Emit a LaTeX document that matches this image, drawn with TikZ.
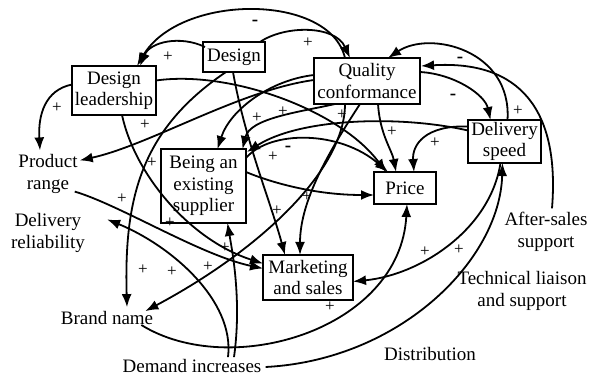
\documentclass[tikz,border=0pt]{standalone}
\usepackage{fontspec}
\setmainfont{Liberation Serif}
\usetikzlibrary{arrows.meta,calc}
\newcommand\nodefont{\fontsize{19}{21.5}\selectfont}
\newcommand\plusfont{\fontsize{17}{17}\selectfont}
\newcommand\minusfont{\fontsize{19}{19}\selectfont\bfseries}
\tikzset{
  box/.style={draw, line width=2pt, inner sep=0pt, align=center, font=\nodefont},
  lbl/.style={inner sep=0pt, align=center, font=\nodefont},
  conn/.style={line width=1.8pt, -{Latex[length=13pt,width=10pt]}},
  pl/.style={inner sep=0pt, font=\plusfont},
  mi/.style={inner sep=0pt, font=\minusfont}
}
\begin{document}
\begin{tikzpicture}[x=1pt,y=-1pt]
\useasboundingbox (0,0) rectangle (597,379);
% boxes
\node[box, minimum width=62pt, minimum height=30pt] (design) at (234,57) {Design};
\node[box, minimum width=84pt, minimum height=49pt] (dl) at (114,90.5) {Design\\leadership};
\node[box, minimum width=106pt, minimum height=46pt] (qc) at (367,81) {Quality\\conformance};
\node[box, minimum width=73pt, minimum height=43pt] (ds) at (504.5,141.5) {Delivery\\speed};
\node[box, minimum width=85pt, minimum height=74pt] (bes) at (203.5,186) {Being an\\existing\\supplier};
\node[box, minimum width=62pt, minimum height=32pt] (price) at (405,188) {Price};
\node[box, minimum width=90pt, minimum height=45pt] (ms) at (308,277.5) {Marketing\\and sales};
% free labels
\node[lbl] (pr) at (48,174) {Product\\range};
\node[lbl] (dr) at (48,233) {Delivery\\reliability};
\node[lbl] (bn) at (107,318) {Brand name};
\node[lbl] (di) at (192,366) {Demand increases};
\node[lbl] (dist) at (430,354) {Distribution};
\node[lbl] (as) at (546,232) {After-sales\\support};
\node[lbl] (tl) at (522,291) {Technical liaison\\and support};
% connectors
\draw[conn] ($(qc.center)+(-22,-23)$) .. controls (330,-7) and (180,-7) .. ($(dl.center)+(23,-24.5)$);
\draw[conn] ($(design.center)+(-29,-10)$) .. controls (180,35) and (150,42) .. ($(dl.center)+(26,-24.5)$);
\draw[conn] ($(design.center)+(26,-15)$) .. controls (285,25) and (335,25) .. ($(qc.center)+(-17,-23)$);
\draw[conn] ($(dl.center)+(-42,-6)$) .. controls (45,90) and (38,115) .. ($(pr.north)+(-8,-4)$);
\draw[conn] ($(qc.center)+(-53,-1)$) .. controls (240,90) and (150,145) .. ($(pr.north east)+(2,6)$);
\draw[conn] ($(design.center)+(-8,15)$) .. controls (140,130) and (124,200) .. ($(bn.north)+(20,-4)$);
\draw[conn] ($(dl.center)+(8,24.5)$) .. controls (135,175) and (190,240) .. ($(ms.center)+(-45,-14)$);
\draw[conn] ($(dl.center)+(42,-10)$) .. controls (230,70) and (340,110) .. ($(price.center)+(-19,-16)$);
\draw[conn] ($(design.center)+(-1,15)$) .. controls (245,140) and (270,200) .. ($(ms.center)+(-23,-22.5)$);
\draw[conn] ($(qc.center)+(-53,-6)$) .. controls (270,80) and (230,110) .. ($(bes.center)+(14,-37)$);
\draw[conn] ($(qc.center)+(-32,23)$) .. controls (300,112) and (250,118) .. ($(bes.center)+(39,-37)$);
\draw[conn] ($(bes.center)+(42.5,-28)$) .. controls (270,130) and (340,130) .. ($(price.center)+(-17,-16)$);
\draw[conn] ($(bes.center)+(42.5,-14)$) .. controls (265,180) and (310,195) .. ($(price.center)+(-31,7)$);
\draw[conn] ($(qc.center)+(11,23)$) .. controls (380,135) and (392,150) .. ($(price.center)+(-9,-16)$);
\draw[conn] ($(ds.center)+(-36.5,-15)$) .. controls (425,125) and (412,145) .. ($(price.center)+(9,-16)$);
\draw[conn] ($(qc.center)+(53,-9)$) .. controls (455,74) and (485,95) .. ($(ds.center)+(-14,-21.5)$);
\draw[conn] ($(ds.center)+(3,-21.5)$) .. controls (512,50) and (430,30) .. ($(qc.center)+(21,-23)$);
\draw[conn] ($(as.north)+(6,-4)$) .. controls (560,110) and (520,60) .. ($(qc.center)+(54,-15)$);
\draw[conn] ($(qc.center)+(-22,23)$) .. controls (345,170) and (260,250) .. ($(bn.north east)+(-8,0)$);
\draw[conn] ($(qc.center)+(-7,23)$) .. controls (330,150) and (300,200) .. ($(ms.center)+(-8,-22.5)$);
\draw[conn] ($(pr.south east)+(-3,-2)$) .. controls (120,205) and (200,255) .. ($(ms.center)+(-45,-9)$);
\draw[conn] ($(di.north)+(36,-2)$) .. controls (235,300) and (170,245) .. ($(dr.north east)+(22,6)$);
\draw[conn] ($(di.north)+(42,-2)$) .. controls (242,300) and (232,250) .. ($(bes.center)+(24,37)$);
\draw[conn] ($(bn.east)+(-12,7)$) .. controls (230,380) and (400,330) .. ($(price.center)+(2,16)$);
\draw[conn] ($(di.east)+(4,1)$) .. controls (400,360) and (500,260) .. ($(ds.center)+(-2,21.5)$);
\draw[conn] ($(ds.center)+(-4,21.5)$) .. controls (490,230) and (420,275) .. ($(ms.center)+(45,4)$);
\draw[conn] ($(ds.center)+(-36.5,-11)$) .. controls (400,115) and (300,118) .. ($(bes.center)+(43.5,-34)$);
% signs
\foreach \p in {(168,57),(308,43),(57,108),(145,125),(152,163),(257,118),(283,112),(342,115),(392,132),(435,143),(518,111),(273,157),(307,197),(277,211),(122,199),(170,223),(225,248),(143,270),(172,272),(208,267),(425,252),(459,250),(330,307)}
  \node[pl] at \p {+};
\foreach \p in {(255,23),(460,60),(453,97),(288,149)}
  \node[mi] at \p {-};
\end{tikzpicture}
\end{document}
